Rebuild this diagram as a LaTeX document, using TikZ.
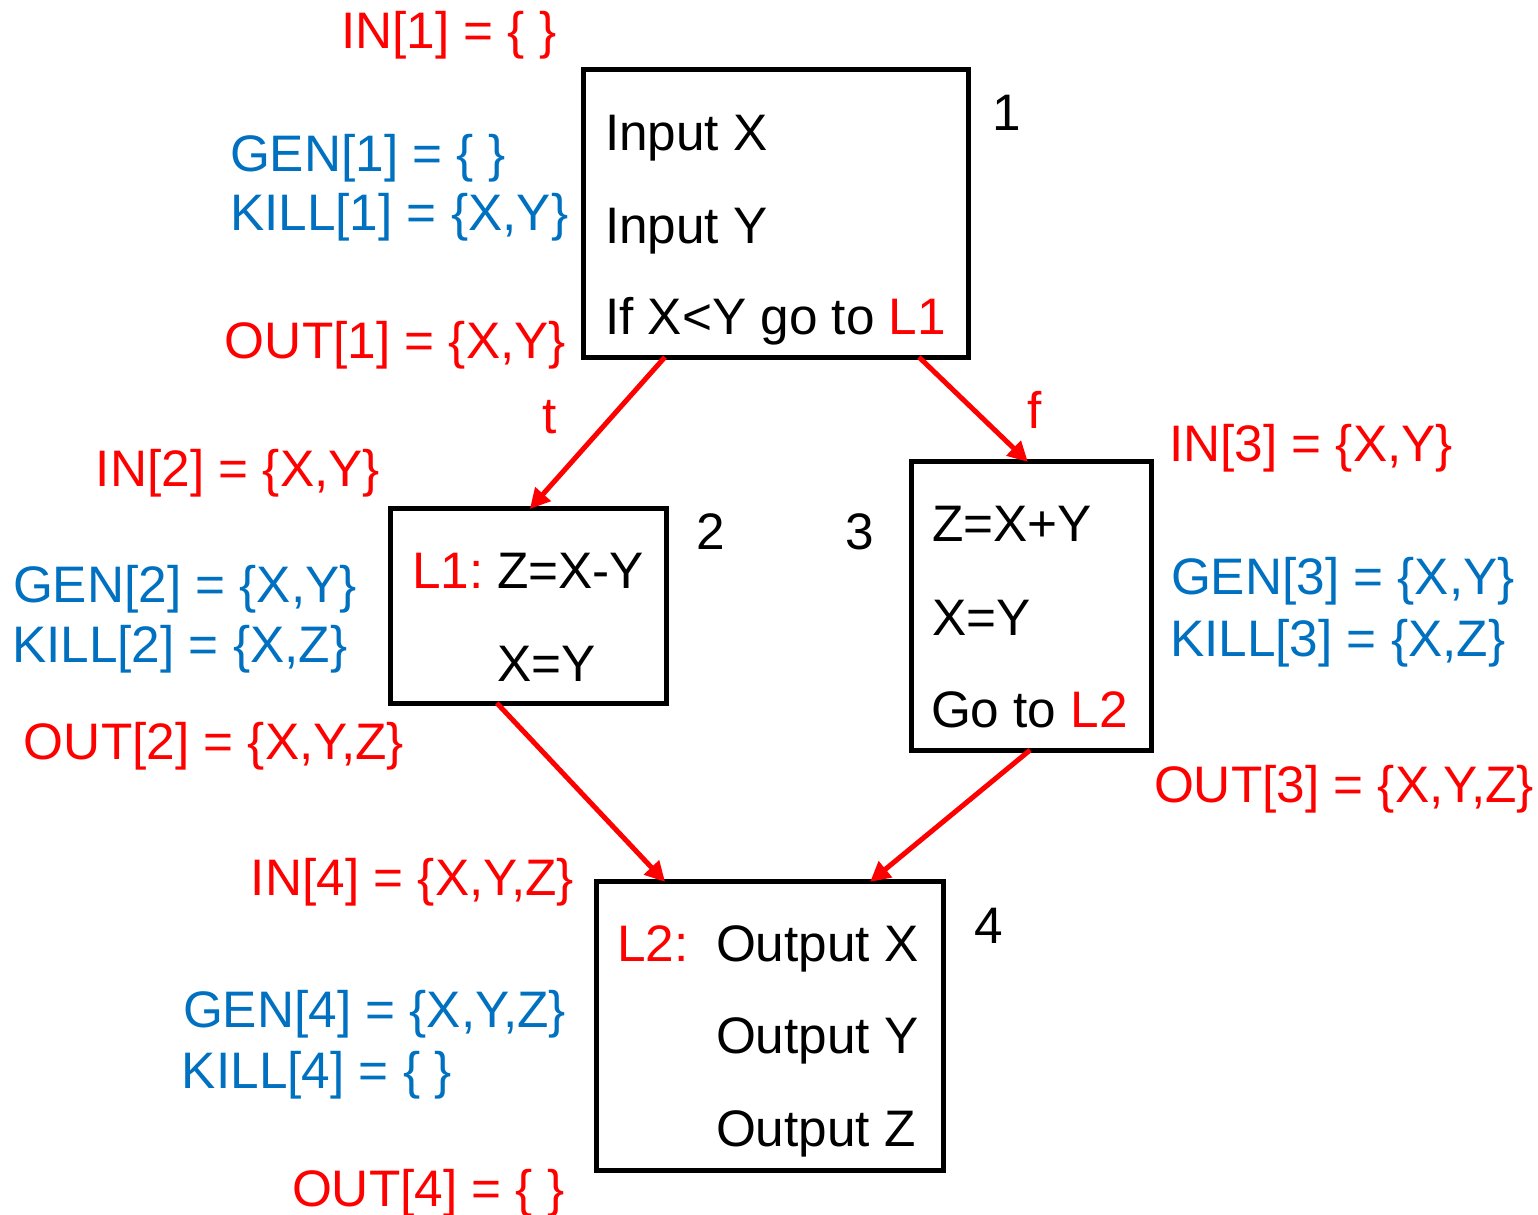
\documentclass[tikz,border=0pt]{standalone}
\usepackage{fontspec}
\setmainfont{Liberation Sans}
\usetikzlibrary{arrows.meta,calc}
\definecolor{setred}{RGB}{255,0,0}
\definecolor{setblue}{RGB}{0,112,192}
\begin{document}
\begin{tikzpicture}[x=0.01cm,y=-0.01cm,
  every node/.style={inner sep=0pt,outer sep=0pt,font=\fontsize{14.6}{17.5}\selectfont},
  blockbox/.style={draw=black,line width=0.05cm,rectangle},
  txt/.style={anchor=base west,text=black},
  redtxt/.style={anchor=base west,text=setred},
  bluetxt/.style={anchor=base west,text=setblue},
  flow/.style={draw=setred,line width=0.05cm,-{Triangle[length=0.2cm,width=0.2cm]}}
]
\useasboundingbox (0,0) rectangle (1538,1215);

% basic blocks
\node[blockbox,minimum width=3.84cm,minimum height=2.87cm] (b1) at (776,213.5) {};
\node[blockbox,minimum width=2.75cm,minimum height=1.94cm] (b2) at (528.5,606) {};
\node[blockbox,minimum width=2.39cm,minimum height=2.88cm] (b3) at (1031.5,606) {};
\node[blockbox,minimum width=3.46cm,minimum height=2.88cm] (b4) at (770,1026) {};

% block contents
\node[txt] (s1a) at (605,150) {Input X};
\node[txt] (s1b) at (605,243) {Input Y};
\node[txt] (s1c) at (605,334) {If X<Y go to \textcolor{setred}{L1}};

\node[redtxt] (s2l) at (412,588) {L1:};
\node[txt] (s2a) at (497,588) {Z=X-Y};
\node[txt] (s2b) at (497,681) {X=Y};

\node[txt] (s3a) at (932,541) {Z=X+Y};
\node[txt] (s3b) at (932,635) {X=Y};
\node[txt] (s3c) at (931,727) {Go to \textcolor{setred}{L2}};

\node[redtxt] (s4l) at (617,961) {L2:};
\node[txt] (s4a) at (716,961) {Output X};
\node[txt] (s4b) at (716,1053) {Output Y};
\node[txt] (s4c) at (716,1146) {Output Z};

% block numbers
\node[txt] (n1) at (992,130) {1};
\node[txt] (n2) at (696,549) {2};
\node[txt] (n3) at (845,549) {3};
\node[txt] (n4) at (974,943) {4};

% edges
\draw[flow] ($(b1.south west)!0.211!(b1.south east)$) -- ($(b2.north west)!0.505!(b2.north east)$);
\draw[flow] ($(b1.south west)!0.872!(b1.south east)$) -- ($(b3.north west)!0.485!(b3.north east)$);
\draw[flow] ($(b2.south west)!0.385!(b2.south east)$) -- ($(b4.north west)!0.197!(b4.north east)$);
\draw[flow] ($(b3.south west)!0.494!(b3.south east)$) -- ($(b4.north west)!0.789!(b4.north east)$);

\node[redtxt] (lt) at (542,433) {t};
\node[redtxt] (lf) at (1027,428) {f};

% data-flow sets, block 1
\node[redtxt] (in1) at (341,48) {IN[1] = \{ \}};
\node[bluetxt] (gen1) at (230,171) {GEN[1] = \{ \}};
\node[bluetxt] (kill1) at (230,230) {KILL[1] = \{X,Y\}};
\node[redtxt] (out1) at (225,358) {OUT[1] = \{X,Y\}};

% block 2
\node[redtxt] (in2) at (96,486) {IN[2] = \{X,Y\}};
\node[bluetxt] (gen2) at (13,602) {GEN[2] = \{X,Y\}};
\node[bluetxt] (kill2) at (12,662) {KILL[2] = \{X,Z\}};
\node[redtxt] (out2) at (24,759) {OUT[2] = \{X,Y,Z\}};

% block 3
\node[redtxt] (in3) at (1169,461) {IN[3] = \{X,Y\}};
\node[bluetxt] (gen3) at (1171,594) {GEN[3] = \{X,Y\}};
\node[bluetxt] (kill3) at (1170,656) {KILL[3] = \{X,Z\}};
\node[redtxt] (out3) at (1154,802) {OUT[3] = \{X,Y,Z\}};

% block 4
\node[redtxt] (in4) at (251,895) {IN[4] = \{X,Y,Z\}};
\node[bluetxt] (gen4) at (183,1027) {GEN[4] = \{X,Y,Z\}};
\node[bluetxt] (kill4) at (182,1088) {KILL[4] = \{ \}};
\node[redtxt] (out4) at (292,1206) {OUT[4] = \{ \}};
\end{tikzpicture}
\end{document}
